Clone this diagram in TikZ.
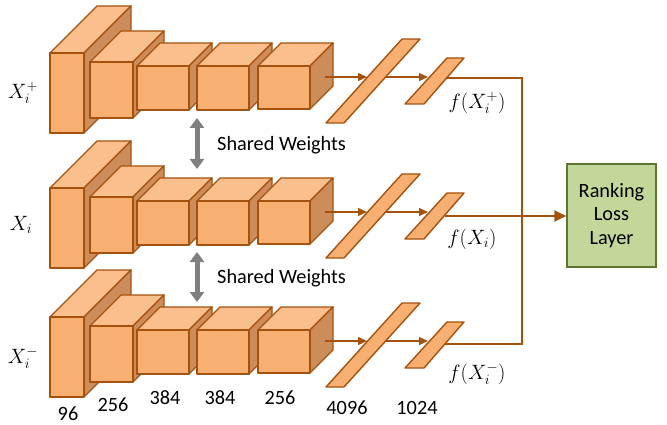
\documentclass[tikz,border=0pt]{standalone}
\usepackage{fontspec}
\setmainfont{Carlito}
\usetikzlibrary{arrows.meta}
\definecolor{edgec}{HTML}{A5520F}
\definecolor{frontc}{HTML}{F8AF72}
\definecolor{topc}{HTML}{FABF8C}
\definecolor{sidec}{HTML}{CD8D5B}
\definecolor{boxfill}{HTML}{C4D79B}
\definecolor{boxedge}{HTML}{5E7530}
\definecolor{greyarr}{HTML}{808080}
\newcommand\cubblk[6]{% x0 x1 y0 y1 d yoff
  \filldraw[face,fill=topc] (#1,#3+#6) -- (#1+#5,#3+#6-#5) -- (#2+#5,#3+#6-#5) -- (#2,#3+#6) -- cycle;
  \filldraw[face,fill=sidec] (#2,#3+#6) -- (#2+#5,#3+#6-#5) -- (#2+#5,#4+#6-#5) -- (#2,#4+#6) -- cycle;
  \filldraw[face,fill=frontc] (#1,#3+#6) rectangle (#2,#4+#6);
}
\begin{document}
\begin{tikzpicture}[x=1pt,y=-1pt,
  face/.style={draw=edgec,line width=1.4pt,line join=round},
  lbl/.style={font=\fontsize{20.3}{24}\selectfont,inner sep=0pt},
  flow/.style={draw=edgec,line width=1.2pt,-{Triangle[length=9pt,width=8pt]}},
  outl/.style={draw=edgec,line width=1.9pt},
  shared/.style={draw=greyarr,line width=5pt,{Triangle[length=10pt,width=14pt]}-{Triangle[length=10pt,width=14pt]}},
  rankbox/.style={draw=boxedge,fill=boxfill,line width=1.5pt,minimum width=89pt,minimum height=103pt,align=center,font=\fontsize{20.3}{23.5}\selectfont,inner sep=0pt}]
\useasboundingbox (0,0) rectangle (667,425);
\foreach \r/\off in {a/0,b/135,c/264}{
  \cubblk{50}{84}{53}{133}{47}{\off}
  \cubblk{90}{133}{62}{118}{31}{\off}
  \cubblk{137}{189}{66}{110}{23}{\off}
  \cubblk{197}{249}{66}{110}{23}{\off}
  \cubblk{258}{310}{66}{109}{23}{\off}
  \filldraw[face,fill=frontc] (326,123+\off) -- (344,123+\off) -- (420,39+\off) -- (402,39+\off) -- cycle;
  \filldraw[face,fill=frontc] (405,104+\off) -- (424,104+\off) -- (464,58+\off) -- (447,58+\off) -- cycle;
  \coordinate (c5\r) at (325,77+\off);
  \coordinate (fa\r) at (367,77+\off);
  \coordinate (fb\r) at (386,77+\off);
  \coordinate (fc\r) at (428,77+\off);
  \draw[flow] (c5\r) -- (fa\r);
  \draw[flow] (fb\r) -- (fc\r);
}
\node[rankbox] (rank) at (611.5,215.5) {Ranking\\Loss\\Layer};
\coordinate (oa) at (446,78);
\coordinate (ob) at (445,216);
\coordinate (oc) at (445,344);
\coordinate (ta) at (522,78);
\coordinate (tc) at (522,344);
\draw[outl,line join=miter] (oa) -- (ta) -- (tc) -- (oc);
\draw[outl,-{Triangle[length=12pt,width=11pt]}] (ob) -- (ob -| rank.west);
\node[lbl] (xp) at (23,93) {$X_i^+$};
\node[lbl] (xm) at (21,225) {$X_i$};
\node[lbl] (xn) at (23,358) {$X_i^-$};
\node[lbl] (fp) at (477,103) {$f(X_i^+)$};
\node[lbl] (fm) at (472,239) {$f(X_i)$};
\node[lbl] (fn) at (477,374) {$f(X_i^-)$};
\coordinate (s1t) at (197,118);
\coordinate (s1b) at (197,169);
\coordinate (s2t) at (197,252);
\coordinate (s2b) at (197,302);
\draw[shared] (s1t) -- (s1b);
\draw[shared] (s2t) -- (s2b);
\node[lbl,anchor=west] (sw1) at (217,145) {Shared Weights};
\node[lbl,anchor=west] (sw2) at (217,278) {Shared Weights};
\node[lbl] (n1) at (68,413.5) {96};
\node[lbl] (n2) at (113,405) {256};
\node[lbl] (n3) at (165,398) {384};
\node[lbl] (n4) at (220,398) {384};
\node[lbl] (n5) at (280,398) {256};
\node[lbl] (n6) at (347,408) {4096};
\node[lbl] (n7) at (417,408) {1024};
\end{tikzpicture}
\end{document}
